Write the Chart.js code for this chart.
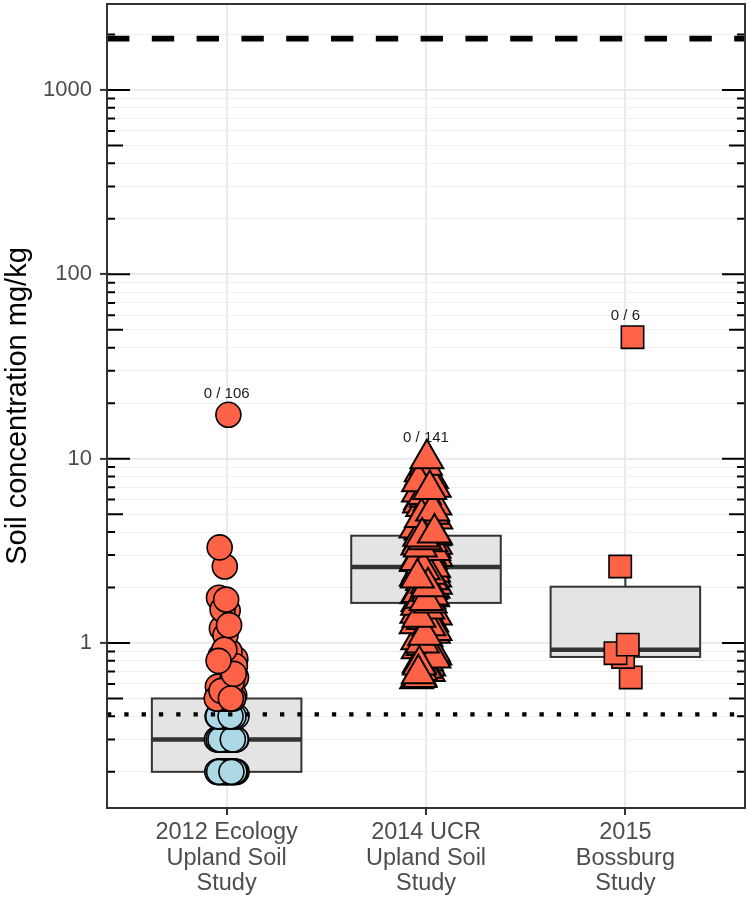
<!DOCTYPE html>
<html>
<head>
<meta charset="utf-8">
<title>Soil concentration mg/kg</title>
<script src="https://cdn.jsdelivr.net/npm/chart.js@4.4.1/dist/chart.umd.min.js"></script>
<style>
  html, body { margin: 0; padding: 0; background: #ffffff; }
  #graficoSolo { display: block; }
</style>
</head>
<body>
<canvas id="graficoSolo" width="751" height="900"></canvas>
<script>
// categorias (eixo x) e rótulos
const categorias = [
    ['2012 Ecology', 'Upland Soil', 'Study'],
    ['2014 UCR', 'Upland Soil', 'Study'],
    ['2015', 'Bossburg', 'Study']
];
const rotulosExcedencia = ['0 / 106', '0 / 141', '0 / 6'];

// 2012 Ecology: não detectados (azul) e detectados (vermelho)
const ecologyNaoDetectado = [
    0.2, 0.2, 0.2, 0.2, 0.2, 0.2, 0.2, 0.2, 0.2, 0.2,
    0.2, 0.2, 0.2, 0.2, 0.2, 0.2, 0.2, 0.2, 0.2, 0.2,
    0.2, 0.2, 0.2, 0.2, 0.2, 0.2, 0.2, 0.2, 0.2, 0.2,
    0.3, 0.3, 0.3, 0.3, 0.3, 0.3, 0.3, 0.3, 0.3, 0.3,
    0.3, 0.3, 0.3, 0.3, 0.3, 0.3, 0.3, 0.3, 0.3, 0.3,
    0.3, 0.3, 0.3, 0.3, 0.3, 0.3,
    0.4, 0.4, 0.4, 0.4, 0.4, 0.4, 0.4, 0.4, 0.4, 0.4,
    0.4, 0.4, 0.4, 0.4, 0.4, 0.4
];
const ecologyDetectado = [
    0.5, 0.82, 1.5, 0.5, 0.6, 2.6, 0.5, 0.9, 1.2, 0.52,
    0.5, 1.76, 0.7, 0.5, 0.65, 17.3, 0.85, 0.5, 1.1, 0.58,
    0.5, 1.52, 0.75, 0.5, 3.3, 0.62, 0.92, 0.5, 1.25, 0.55,
    0.68, 1.72, 0.8, 0.5
];

// 2014 UCR (141 amostras, ordem original das amostras)
const ucrValores = [
    2.3, 0.75, 4.6, 1.13, 3.06, 0.93, 7.2, 2.05, 1.42, 3.5,
    0.66, 5.1, 2.62, 1.85, 1.2, 8.1, 3.28, 0.8, 2.46, 4.05,
    1.57, 2.95, 0.7, 6.0, 1.98, 3.66, 1.04, 4.3, 2.18, 0.86,
    3.14, 5.75, 1.3, 2.73, 0.64, 1.73, 3.9, 2.56, 1.08, 6.6,
    2.12, 0.97, 3.43, 4.9, 1.5, 1.78, 0.73, 2.88, 5.35, 1.63,
    3.82, 2.22, 0.78, 7.8, 1.93, 1.27, 3.2, 4.1, 0.9, 2.4,
    1.68, 2.84, 5.5, 1.17, 3.57, 0.65, 2.0, 4.4, 1.45, 3.03,
    2.53, 0.83, 6.2, 1.88, 3.36, 1.34, 4.7, 2.66, 0.71, 2.15,
    3.73, 1.6, 5.9, 1.0, 2.28, 3.1, 0.76, 4.0, 1.8, 2.77,
    1.24, 8.5, 2.43, 3.46, 0.68, 1.95, 4.5, 2.08, 1.53, 3.6,
    5.0, 1.1, 2.33, 3.24, 1.75, 7.0, 2.92, 1.38, 2.2, 3.7,
    4.2, 1.9, 3.0, 2.58, 9.2, 3.4, 1.65, 2.7, 5.6, 2.1,
    3.79, 1.82, 6.4, 2.8, 2.36, 4.8, 3.18, 1.7, 7.5, 3.54,
    2.5, 3.86, 2.02, 3.32, 5.2, 3.63, 2.25, 6.8, 3.76, 3.95,
    10.0
];

// 2015 Bossburg
const bossburgValores = [0.65, 0.84, 0.88, 0.98, 2.6, 45.6];

// estatísticas das caixas
const caixaQ1 = [0.2, 1.65, 0.84];
const caixaMediana = [0.3, 2.58, 0.92];
const caixaQ3 = [0.5, 3.82, 2.02];
const bigodeMin = [0.2, 0.64, 0.65];
const bigodeMax = [1.76, 10.0, 2.6];

// linhas de referência
const limiteTracejado = 1900;
const limitePontilhado = 0.41;

// eixo y
const rotulosY = [1, 10, 100, 1000];
const ticksMedios = [0.5, 5, 50, 500];
const linhasGrade = [
    0.2, 0.3, 0.4, 0.5, 0.6, 0.7, 0.8, 0.9,
    1, 2, 3, 4, 5, 6, 7, 8, 9,
    10, 20, 30, 40, 50, 60, 70, 80, 90,
    100, 200, 300, 400, 500, 600, 700, 800, 900,
    1000, 2000
];

const fonte = "'Liberation Sans', Arial, sans-serif";
const vermelho = '#FF6347';
const azul = '#ADD8E6';
const larguraCaixa = 0.75;
const larguraJitter = 0.05;

function espalhar(valores, posicao, semente) {
    return valores.map((v, i) => ({
        x: posicao + ((((i + 1) * 0.6180339887 + semente) % 1) - 0.5) * 2 * larguraJitter,
        y: v
    }));
}

const caixas = {
    id: 'caixas',
    beforeDatasetsDraw(chart) {
        const { ctx, scales: { x, y }, chartArea } = chart;
        ctx.save();
        categorias.forEach((c, i) => {
            const cx = x.getPixelForValue(i + 1);
            const esq = x.getPixelForValue(i + 1 - larguraCaixa / 2);
            const dir = x.getPixelForValue(i + 1 + larguraCaixa / 2);
            const y1 = y.getPixelForValue(caixaQ1[i]);
            const y3 = y.getPixelForValue(caixaQ3[i]);
            const ym = y.getPixelForValue(caixaMediana[i]);

            ctx.strokeStyle = '#333333';
            ctx.lineWidth = 2;
            ctx.beginPath();
            ctx.moveTo(cx, y3);
            ctx.lineTo(cx, y.getPixelForValue(bigodeMax[i]));
            ctx.moveTo(cx, y1);
            ctx.lineTo(cx, y.getPixelForValue(bigodeMin[i]));
            ctx.stroke();

            ctx.fillStyle = '#E4E4E4';
            ctx.fillRect(esq, y3, dir - esq, y1 - y3);
            ctx.strokeRect(esq, y3, dir - esq, y1 - y3);

            ctx.lineWidth = 4.5;
            ctx.beginPath();
            ctx.moveTo(esq, ym);
            ctx.lineTo(dir, ym);
            ctx.stroke();
        });

        // marcas logarítmicas nas duas bordas
        ctx.strokeStyle = '#000000';
        ctx.lineWidth = 2;
        linhasGrade.forEach(v => {
            const py = y.getPixelForValue(v);
            const comp = rotulosY.includes(v) ? 23 : (ticksMedios.includes(v) ? 16 : 8);
            ctx.beginPath();
            ctx.moveTo(chartArea.left, py);
            ctx.lineTo(chartArea.left + comp, py);
            ctx.moveTo(chartArea.right, py);
            ctx.lineTo(chartArea.right - comp, py);
            ctx.stroke();
        });
        ctx.restore();
    },
    afterDatasetsDraw(chart) {
        const { ctx, scales: { x, y }, chartArea } = chart;
        ctx.save();
        ctx.strokeStyle = '#000000';
        ctx.lineCap = 'butt';

        // linha tracejada
        let py = y.getPixelForValue(limiteTracejado);
        ctx.lineWidth = 5.6;
        ctx.setLineDash([22.4, 22.4]);
        ctx.beginPath();
        ctx.moveTo(chartArea.left, py);
        ctx.lineTo(chartArea.right, py);
        ctx.stroke();

        // linha pontilhada
        py = y.getPixelForValue(limitePontilhado);
        ctx.lineWidth = 4.3;
        ctx.setLineDash([4.3, 13]);
        ctx.beginPath();
        ctx.moveTo(chartArea.left, py);
        ctx.lineTo(chartArea.right, py);
        ctx.stroke();
        ctx.setLineDash([]);

        // rótulos n / total
        const grupos = [ecologyNaoDetectado.concat(ecologyDetectado), ucrValores, bossburgValores];
        ctx.fillStyle = '#1A1A1A';
        ctx.font = '15px ' + fonte;
        ctx.textAlign = 'center';
        ctx.textBaseline = 'middle';
        grupos.forEach((g, i) => {
            const topo = y.getPixelForValue(Math.max(...g));
            ctx.fillText(rotulosExcedencia[i], x.getPixelForValue(i + 1), topo - 21);
        });
        ctx.restore();
    },
    afterDraw(chart) {
        const { ctx, chartArea } = chart;
        ctx.save();
        ctx.strokeStyle = '#333333';
        ctx.lineWidth = 2;
        ctx.strokeRect(chartArea.left, chartArea.top, chartArea.right - chartArea.left, chartArea.bottom - chartArea.top);
        ctx.restore();
    }
};

document.addEventListener('DOMContentLoaded', () => {
    const ctx = document.getElementById('graficoSolo').getContext('2d');

    const grafico = new Chart(ctx, {
        type: 'scatter',
        data: {
            datasets: [
                {
                    label: 'Bossburg',
                    data: espalhar(bossburgValores, 3, 0.15),
                    pointStyle: 'rect',
                    pointRadius: 15.8,
                    backgroundColor: vermelho,
                    borderColor: '#000000',
                    borderWidth: 1.6,
                    order: 1
                },
                {
                    label: 'UCR',
                    data: espalhar(ucrValores, 2, 0.4),
                    pointStyle: 'triangle',
                    pointRadius: 19,
                    backgroundColor: vermelho,
                    borderColor: '#000000',
                    borderWidth: 2,
                    order: 2
                },
                {
                    label: 'Ecology detectado',
                    data: espalhar(ecologyDetectado, 1, 0.7),
                    pointStyle: 'circle',
                    pointRadius: 12.5,
                    backgroundColor: vermelho,
                    borderColor: '#000000',
                    borderWidth: 1.6,
                    order: 3
                },
                {
                    label: 'Ecology não detectado',
                    data: espalhar(ecologyNaoDetectado, 1, 0.2),
                    pointStyle: 'circle',
                    pointRadius: 12.5,
                    backgroundColor: azul,
                    borderColor: '#000000',
                    borderWidth: 1.6,
                    order: 4
                }
            ]
        },
        options: {
            responsive: false,
            animation: false,
            events: [],
            layout: { autoPadding: false, padding: { top: 4, right: 6, bottom: 0, left: 0 } },
            plugins: {
                legend: { display: false },
                tooltip: { enabled: false }
            },
            scales: {
                x: {
                    type: 'linear',
                    min: 0.4,
                    max: 3.6,
                    afterBuildTicks: (eixo) => {
                        eixo.ticks = categorias.map((c, i) => ({ value: i + 1 }));
                    },
                    afterFit: (eixo) => {
                        eixo.height = 92;
                        eixo.paddingLeft = 0;
                        eixo.paddingRight = 0;
                    },
                    border: { display: false },
                    grid: {
                        color: '#EBEBEB',
                        lineWidth: 2,
                        tickColor: '#333333',
                        tickWidth: 2,
                        tickLength: 7
                    },
                    ticks: {
                        autoSkip: false,
                        maxRotation: 0,
                        padding: 5,
                        color: '#4D4D4D',
                        font: { family: fonte, size: 23.5, lineHeight: 1.08 },
                        callback: (v) => categorias[Math.round(v) - 1]
                    }
                },
                y: {
                    type: 'logarithmic',
                    min: 0.1273,
                    max: 2928,
                    afterBuildTicks: (eixo) => {
                        eixo.ticks = linhasGrade.map(v => ({ value: v }));
                    },
                    afterFit: (eixo) => {
                        eixo.width = 107;
                        eixo.paddingTop = 0;
                        eixo.paddingBottom = 0;
                    },
                    border: { display: false },
                    grid: {
                        color: (c) => (c.tick && rotulosY.includes(c.tick.value)) ? '#E8E8E8' : '#EFEFEF',
                        lineWidth: (c) => (c.tick && rotulosY.includes(c.tick.value)) ? 1.8 : 1,
                        tickColor: (c) => (c.tick && rotulosY.includes(c.tick.value)) ? '#333333' : 'rgba(0,0,0,0)',
                        tickWidth: 2,
                        tickLength: 7
                    },
                    ticks: {
                        autoSkip: false,
                        padding: 8,
                        color: '#4D4D4D',
                        font: { family: fonte, size: 22 },
                        callback: (v) => rotulosY.includes(v) ? String(v) : ''
                    },
                    title: {
                        display: true,
                        text: 'Soil concentration mg/kg',
                        color: '#000000',
                        font: { family: fonte, size: 29 },
                        padding: { top: 1, bottom: 0 }
                    }
                }
            }
        },
        plugins: [caixas]
    });
});
</script>
</body>
</html>
